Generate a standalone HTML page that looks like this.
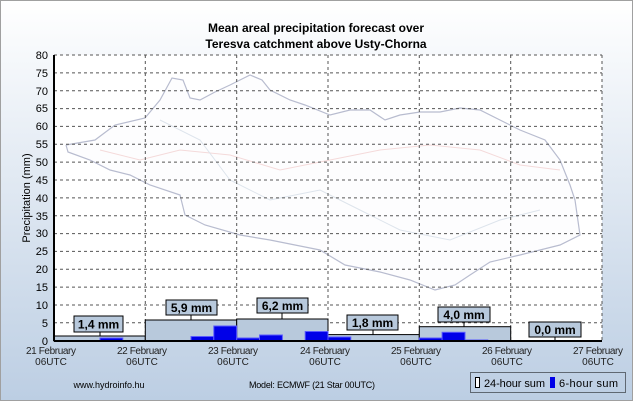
<!DOCTYPE html>
<html><head><meta charset="utf-8"><style>
html,body{margin:0;padding:0;width:633px;height:401px;overflow:hidden}
text{font-family:"Liberation Sans",Arial,sans-serif}
</style></head><body>
<svg width="633" height="401" viewBox="0 0 633 401" xmlns="http://www.w3.org/2000/svg">
<defs><linearGradient id="bg" x1="0" y1="0" x2="0" y2="1">
<stop offset="0" stop-color="#ffffff"/><stop offset="1" stop-color="#bccee3"/></linearGradient></defs>
<rect x="0.5" y="0.5" width="632" height="400" fill="url(#bg)" stroke="#a0a0a0"/>
<text x="316" y="32" font-size="12" font-weight="bold" text-anchor="middle">Mean areal precipitation forecast over</text>
<text x="316" y="48" font-size="12" font-weight="bold" text-anchor="middle">Teresva catchment above Usty-Chorna</text>
<rect x="54" y="55" width="548" height="286" fill="#fff"/>
<polyline fill="#fdfdfe" stroke="#b8bccf" stroke-width="1.2" points="66,145 95,140 115,125 145,118 160,100 172,78 183,80 190,98 200,100 215,92 230,85 250,75 262,80 270,90 290,100 305,105 330,115 350,110 370,110 385,120 400,115 420,112 440,112 460,108 480,110 500,120 520,130 545,140 560,160 570,185 575,200 580,235 560,245 520,255 490,262 470,275 455,285 435,290 410,280 380,272 345,265 320,250 295,245 270,240 240,235 205,225 185,215 180,195 150,185 130,175 110,170 90,160 68,152 66,145"/>
<polyline fill="none" stroke="#f4dada" stroke-width="1" points="100,150 140,160 180,150 230,155 280,170 330,160 380,150 430,145 480,150 520,165 560,170"/>
<polyline fill="none" stroke="#dde4ec" stroke-width="1" points="160,120 200,140 230,180 270,200 320,190 360,210 400,230 450,240 500,220 540,210"/>
<g stroke="#555" stroke-dasharray="3,3" stroke-width="1">
<line x1="54" y1="72.9" x2="602" y2="72.9"/><line x1="54" y1="90.7" x2="602" y2="90.7"/><line x1="54" y1="108.6" x2="602" y2="108.6"/><line x1="54" y1="126.4" x2="602" y2="126.4"/><line x1="54" y1="144.3" x2="602" y2="144.3"/><line x1="54" y1="162.1" x2="602" y2="162.1"/><line x1="54" y1="180" x2="602" y2="180"/><line x1="54" y1="197.9" x2="602" y2="197.9"/><line x1="54" y1="215.7" x2="602" y2="215.7"/><line x1="54" y1="233.6" x2="602" y2="233.6"/><line x1="54" y1="251.4" x2="602" y2="251.4"/><line x1="54" y1="269.3" x2="602" y2="269.3"/><line x1="54" y1="287.1" x2="602" y2="287.1"/><line x1="54" y1="305" x2="602" y2="305"/><line x1="54" y1="322.8" x2="602" y2="322.8"/>
<line x1="54" y1="55" x2="602" y2="55"/>
<line x1="145.3" y1="55" x2="145.3" y2="341"/><line x1="236.7" y1="55" x2="236.7" y2="341"/><line x1="328" y1="55" x2="328" y2="341"/><line x1="419.3" y1="55" x2="419.3" y2="341"/><line x1="510.7" y1="55" x2="510.7" y2="341"/><line x1="602" y1="55" x2="602" y2="341"/>
</g>
<g fill="#b8c9dc" stroke="#000" stroke-width="1">
<rect x="54" y="336" width="91.3" height="5"/>
<rect x="145.3" y="320" width="91.4" height="21"/>
<rect x="236.7" y="319" width="91.3" height="22"/>
<rect x="328" y="334.6" width="91.3" height="6.4"/>
<rect x="419.3" y="326.7" width="91.4" height="14.3"/>
</g>
<g fill="#0000e8" stroke="#5a5aff" stroke-width="1">
<rect x="100" y="338" width="22.8" height="3"/>
<rect x="191" y="336.5" width="22.8" height="4.5"/>
<rect x="213.8" y="326" width="22.9" height="15"/>
<rect x="236.7" y="338" width="22.8" height="3"/>
<rect x="259.5" y="335" width="22.9" height="6"/>
<rect x="305.2" y="331.5" width="22.8" height="9.5"/>
<rect x="328" y="337" width="22.8" height="4"/>
<rect x="419.3" y="338" width="22.8" height="3"/>
<rect x="442.1" y="332.3" width="22.9" height="8.7"/>
<rect x="465" y="340" width="22.8" height="1"/>
</g>
<g fill="#b8c9dc" stroke="#000" stroke-width="1">
<rect x="74" y="316" width="49" height="16"/>
<rect x="166" y="300" width="51" height="15"/>
<rect x="257" y="298" width="51" height="15"/>
<rect x="347" y="315" width="51" height="15"/>
<rect x="438" y="307" width="52" height="15"/>
<rect x="529" y="322" width="52" height="15"/>
</g>
<g stroke="#000"><line x1="100" y1="332" x2="100" y2="336"/><line x1="191" y1="315" x2="191" y2="320"/><line x1="282" y1="313" x2="282" y2="319"/><line x1="373" y1="330" x2="373" y2="334.6"/><line x1="464" y1="322" x2="464" y2="326.7"/><line x1="555" y1="337" x2="555" y2="341"/></g>
<g font-size="12" font-weight="bold" text-anchor="middle">
<text x="98.5" y="328.5">1,4 mm</text><text x="191.5" y="312">5,9 mm</text><text x="282.5" y="310">6,2 mm</text><text x="372.5" y="327">1,8 mm</text><text x="464" y="319">4,0 mm</text><text x="555" y="334">0,0 mm</text>
</g>
<g stroke="#000" stroke-width="2"><line x1="54" y1="55" x2="54" y2="341"/><line x1="54" y1="341" x2="602" y2="341"/></g>
<g font-size="11" text-anchor="end">
<text x="48" y="59">80</text><text x="48" y="77">75</text><text x="48" y="95">70</text><text x="48" y="112">65</text><text x="48" y="130">60</text><text x="48" y="148">55</text><text x="48" y="166">50</text><text x="48" y="184">45</text><text x="48" y="202">40</text><text x="48" y="220">35</text><text x="48" y="237">30</text><text x="48" y="255">25</text><text x="48" y="273">20</text><text x="48" y="291">15</text><text x="48" y="309">10</text><text x="48" y="327">5</text><text x="48" y="345">0</text>
</g>
<text x="30" y="198" font-size="11" text-anchor="middle" transform="rotate(-90 30 198)">Precipitation (mm)</text>
<g font-size="10" text-anchor="middle" fill="#222">
<text x="51" y="354" textLength="50">21 February</text><text x="51" y="365">06UTC</text>
<text x="142" y="354" textLength="50">22 February</text><text x="142" y="365">06UTC</text>
<text x="233" y="354" textLength="50">23 February</text><text x="233" y="365">06UTC</text>
<text x="325" y="354" textLength="50">24 February</text><text x="325" y="365">06UTC</text>
<text x="416" y="354" textLength="50">25 February</text><text x="416" y="365">06UTC</text>
<text x="507" y="354" textLength="50">26 February</text><text x="507" y="365">06UTC</text>
<text x="598" y="354" textLength="50">27 February</text><text x="598" y="365">06UTC</text>
</g>
<text x="109" y="388" font-size="9" text-anchor="middle">www.hydroinfo.hu</text>
<text x="249" y="388" font-size="9" textLength="126">Model: ECMWF (21  Star 00UTC)</text>
<rect x="470.5" y="372.5" width="155" height="20" fill="none" stroke="#000" stroke-dasharray="1,1"/>
<rect x="475.5" y="377.5" width="4" height="10" fill="#fff" stroke="#000"/>
<text x="484" y="387" font-size="11" textLength="61">24-hour sum</text>
<rect x="550" y="377" width="5" height="11" fill="#0000e8"/>
<text x="559" y="387" font-size="11" textLength="59">6-hour sum</text>
</svg>
</body></html>
